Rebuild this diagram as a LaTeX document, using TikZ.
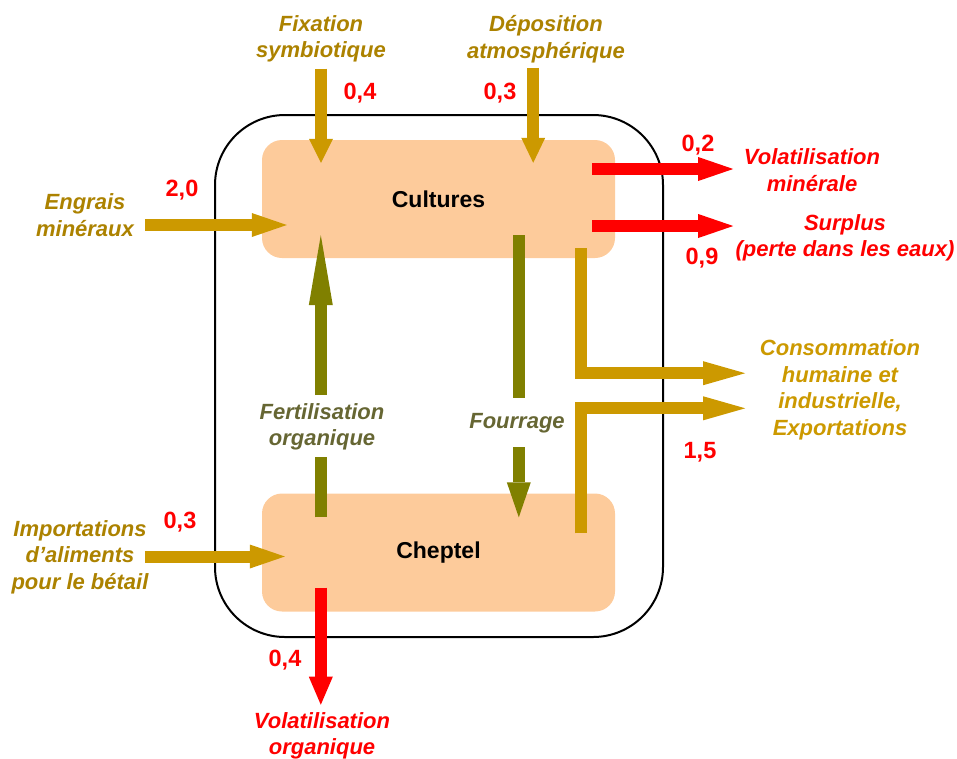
\documentclass[tikz,border=0pt]{standalone}
\usepackage{fontspec}
\setmainfont{Liberation Sans}
\usetikzlibrary{arrows.meta,calc,positioning}
\definecolor{peach}{RGB}{253,203,155}
\definecolor{gold}{RGB}{204,153,0}
\definecolor{goldtext}{RGB}{172,130,0}
\definecolor{olive}{RGB}{128,128,0}
\definecolor{olivetext}{RGB}{102,102,51}
\definecolor{nred}{RGB}{255,0,0}
\tikzset{
  lbl/.style={font=\fontsize{22}{26.5}\selectfont\bfseries\itshape, align=center, inner sep=0pt},
  num/.style={font=\fontsize{23.5}{26}\selectfont\bfseries, text=nred, inner sep=0pt},
  bloc/.style={fill=peach, rounded corners=20pt, minimum width=353pt, minimum height=118pt,
    font=\fontsize{23}{26}\selectfont\bfseries},
  shaft/.style={line width=12pt},
  flux/.style={line width=12pt, -{Triangle[length=#1,width=24pt,line width=0pt]}},
  flux/.default=35pt
}
\begin{document}
\begin{tikzpicture}[x=1pt,y=-1pt]
\useasboundingbox (0,0) rectangle (957,758);
\node[draw, line width=2pt, rounded corners=70pt, minimum width=448pt, minimum height=522pt] (ferme) at (439,376) {};
\node[bloc] (cult) at (438.5,199) {Cultures};
\node[bloc] (chep) at (438.5,552.5) {Cheptel};

\node[lbl, text=goldtext] (fix) at (321,39) {Fixation\\symbiotique};
\node[lbl, text=goldtext] (depo) at (546,39) {Déposition\\atmosphérique};
\node[lbl, text=goldtext] (engr) at (85,215) {Engrais\\minéraux};
\node[lbl, text=goldtext] (impo) at (80,557) {Importations\\d’aliments\\pour le bétail};
\node[lbl, text=nred] (volmin) at (812,170) {Volatilisation\\minérale};
\node[lbl, text=nred] (surp) at (845,238) {Surplus\\(perte dans les eaux)};
\node[lbl, text=gold] (conso) at (840,390) {Consommation\\humaine et\\industrielle,\\Exportations};
\node[lbl, text=olivetext] (fert) at (322,427) {Fertilisation\\organique};
\node[lbl, text=olivetext] (four) at (517,423) {Fourrage};
\node[lbl, text=nred] (volorg) at (322,736) {Volatilisation\\organique};

\node[num] (n1) at (360,93) {0,4};
\node[num] (n2) at (500,93) {0,3};
\node[num] (n3) at (182,190) {2,0};
\node[num] (n4) at (698,145) {0,2};
\node[num] (n5) at (702,258) {0,9};
\node[num] (n6) at (700,452) {1,5};
\node[num] (n7) at (180,522) {0,3};
\node[num] (n8) at (285,660) {0,4};

\draw[flux=24pt, gold] ($(fix.south)+(0,6)$) -- ($(fix.south |- cult.north)+(0,23)$);
\draw[flux=25pt, gold] ($(cult.north east)+(-82,-72)$) -- ($(cult.north east)+(-82,23)$);
\draw[flux, gold] ($(cult.west)+(-117,26)$) -- ($(cult.west)+(25,26)$);
\draw[flux, nred] ($(cult.east)+(-23,-30)$) -- ($(cult.east)+(118,-30)$);
\draw[flux, nred] ($(cult.east)+(-23,27)$) -- ($(cult.east)+(118,27)$);
\draw[flux=42pt, gold] ($(cult.south east)+(-34,-10)$) |- ($(cult.south east)+(130,115)$);
\draw[flux=42pt, gold] ($(chep.north east)+(-34,40)$) |- ($(chep.north east)+(130,-85)$);
\draw[shaft, olive] ($(chep.north west)+(59,24)$) -- ($(chep.north west)+(59,-36)$);
\draw[flux=70pt, olive] ($(cult.south west)+(59,137)$) -- ($(cult.south west)+(59,-23)$);
\draw[shaft, olive] ($(cult.south west)+(257,-23)$) -- ($(cult.south west)+(257,140)$);
\draw[flux, olive] ($(chep.north west)+(257,-46)$) -- ($(chep.north west)+(257,24)$);
\draw[flux, gold] ($(chep.west)+(-117,4)$) -- ($(chep.west)+(23,4)$);
\draw[flux=28pt, nred] ($(chep.south west)+(59,-24)$) -- ($(chep.south west)+(59,93)$);
\end{tikzpicture}
\end{document}
